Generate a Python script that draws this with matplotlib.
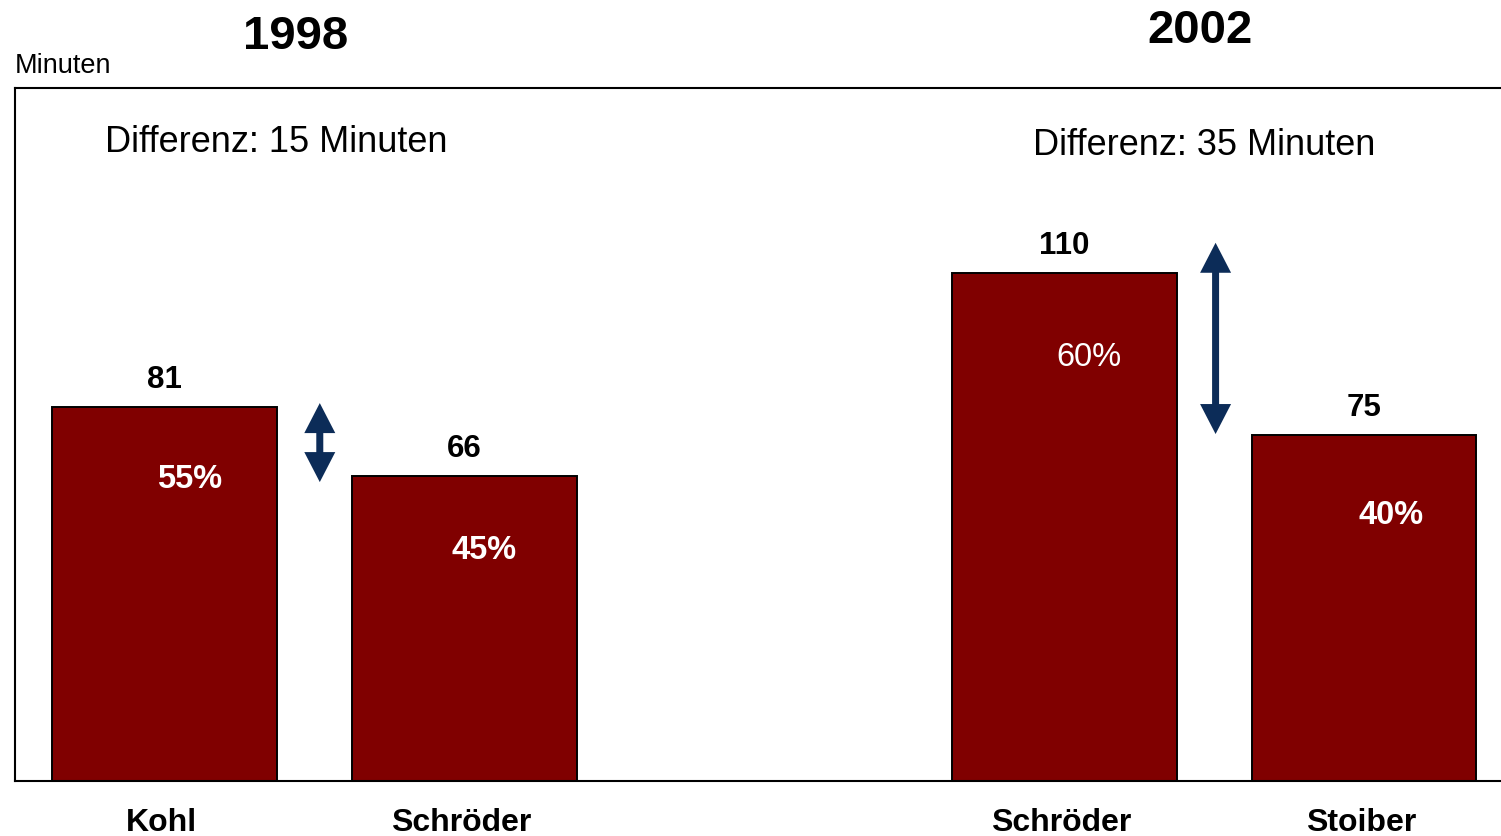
import matplotlib
matplotlib.use("Agg")
import matplotlib.pyplot as plt
from matplotlib.patches import Polygon

plt.rcParams["font.family"] = ["Liberation Sans", "DejaVu Sans"]

# Data
candidates = ["Kohl", "Schröder", "Schröder", "Stoiber"]
minutes = [81, 66, 110, 75]
shares = ["55%", "45%", "60%", "40%"]
years = ["1998", "2002"]
differences = ["Differenz: 15 Minuten", "Differenz: 35 Minuten"]

# Layout / style
positions = [0, 1, 3, 4]
bar_color = "#800000"
arrow_color = "#0c2c58"
share_weights = ["bold", "bold", "normal", "bold"]
share_offsets_px = [(25, -81), (20, -83), (25, -93), (27, -90)]
arrow_x = [0.518, 3.505]
arrow_spans = [(64.7, 81.8), (75.1, 116.5)]

W, H, DPI = 1501, 836, 100
fig = plt.figure(figsize=(W / DPI, H / DPI), dpi=DPI)
ax = fig.add_axes([15 / W, 1 - 781 / H, 1 - 15 / W, (781 - 88) / H])

ax.bar(positions, minutes, width=0.75, color=bar_color,
       edgecolor="black", linewidth=1.4, zorder=2)

ax.set_xlim(-0.4983, 4.4567)
ax.set_ylim(0, 150)
ax.set_xticks([])
ax.set_yticks([])
for side in ["left", "top", "bottom"]:
    ax.spines[side].set_linewidth(1.5)
    ax.spines[side].set_color("black")
ax.spines["right"].set_visible(False)

px2pt = 72 / DPI

# Values above bars
for x, v in zip(positions, minutes):
    ax.annotate(str(v), (x, v), xytext=(0, 19 * px2pt), textcoords="offset points",
                ha="center", va="baseline", fontsize=22.5, fontweight="bold")

# Shares inside bars
for x, v, s, w, (dx, dy) in zip(positions, minutes, shares, share_weights, share_offsets_px):
    ax.annotate(s, (x, v), xytext=(dx * px2pt, dy * px2pt), textcoords="offset points",
                ha="center", va="baseline", fontsize=23.5, fontweight=w, color="white")

# Candidate names below the axis
for x, name in zip(positions, candidates):
    ax.text(x - 0.01, -50 / 693, name, transform=ax.get_xaxis_transform(),
            ha="center", va="baseline", fontsize=23, fontweight="bold", clip_on=False)

# Double-headed difference arrows as single outlines
shaft_hw = 3.5 / 300   # half shaft width (x units)
head_hw = 15.5 / 300   # half head width (x units)
head_l = 30 / 4.62     # head length (y units)
for x, (y0, y1) in zip(arrow_x, arrow_spans):
    outline = [
        (x, y1),
        (x + head_hw, y1 - head_l), (x + shaft_hw, y1 - head_l),
        (x + shaft_hw, y0 + head_l), (x + head_hw, y0 + head_l),
        (x, y0),
        (x - head_hw, y0 + head_l), (x - shaft_hw, y0 + head_l),
        (x - shaft_hw, y1 - head_l), (x - head_hw, y1 - head_l),
    ]
    ax.add_patch(Polygon(outline, closed=True, facecolor=arrow_color,
                         edgecolor="none", zorder=3))

# Headings
fig.text(296 / W, 1 - 49 / H, years[0], ha="center", va="baseline",
         fontsize=34, fontweight="bold")
fig.text(1200 / W, 1 - 43 / H, years[1], ha="center", va="baseline",
         fontsize=34, fontweight="bold")
fig.text(105 / W, 1 - 152 / H, differences[0], ha="left", va="baseline", fontsize=26)
fig.text(1033 / W, 1 - 155 / H, differences[1], ha="left", va="baseline", fontsize=26)
fig.text(15 / W, 1 - 73 / H, "Minuten", ha="left", va="baseline", fontsize=19.5)

fig.savefig("out.png", dpi=DPI, facecolor="white")
